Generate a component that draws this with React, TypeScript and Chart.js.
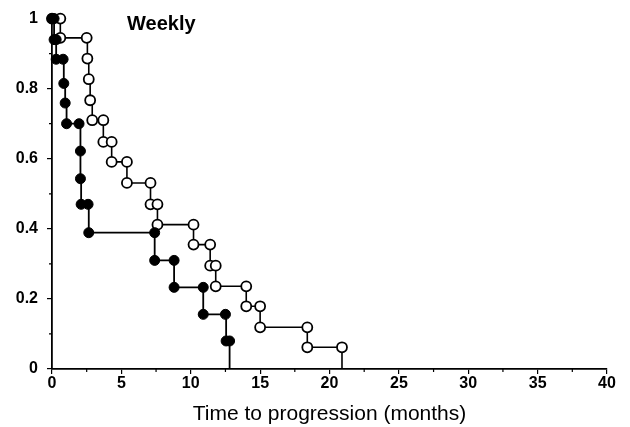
import React, { useEffect, useRef } from "react";
import { Chart, registerables } from "chart.js";

Chart.register(...registerables);

// Kaplan-Meier corner points (time in months, proportion progression-free)
const filledTimes = [0, 0.15, 0.15, 0.3, 0.3, 0.8, 0.85, 0.95, 1.05, 1.95, 2.05, 2.05, 2.1, 2.6, 2.65, 7.4, 7.4, 8.8, 8.8, 10.9, 10.9, 12.5, 12.55, 12.8, 12.8];
const filledValues = [1, 1, 0.94, 0.94, 0.884, 0.884, 0.815, 0.759, 0.7, 0.7, 0.622, 0.543, 0.47, 0.47, 0.389, 0.389, 0.31, 0.31, 0.233, 0.233, 0.156, 0.156, 0.08, 0.08, 0];

const openTimes = [0, 0.6, 0.6, 2.5, 2.55, 2.65, 2.75, 2.9, 3.7, 3.7, 4.3, 4.3, 5.4, 5.4, 7.1, 7.1, 7.6, 7.6, 10.2, 10.2, 11.4, 11.4, 11.8, 11.8, 14.0, 14.0, 15.0, 15.0, 18.4, 18.4, 20.9, 20.9];
const openValues = [1, 1, 0.945, 0.945, 0.886, 0.827, 0.767, 0.71, 0.71, 0.648, 0.648, 0.591, 0.591, 0.531, 0.531, 0.47, 0.47, 0.412, 0.412, 0.355, 0.355, 0.295, 0.295, 0.236, 0.236, 0.179, 0.179, 0.119, 0.119, 0.062, 0.062, 0];

const xTicks = [0, 5, 10, 15, 20, 25, 30, 35, 40];
const xMinorTicks = [2.5, 7.5, 12.5, 17.5, 22.5, 27.5, 32.5, 37.5];
const yTicks = [0, 0.2, 0.4, 0.6, 0.8, 1];
const yMinorTicks = [0.1, 0.3, 0.5, 0.7, 0.9];
const panelLabel = "Weekly";
const xTitle = "Time to progression (months)";

const FONT = "'Liberation Sans', Arial, Helvetica, sans-serif";

const toPoints = (xs: number[], ys: number[]) => xs.map((x, i) => ({ x, y: ys[i] }));

export default function App() {
  const ref = useRef<HTMLCanvasElement | null>(null);

  useEffect(() => {
    document.body.style.margin = "0";
    const canvas = ref.current;
    if (!canvas) return;

    const extras = {
      id: "extras",
      afterDraw(chart: any) {
        const ctx = chart.ctx;
        const xs = chart.scales.x;
        const ys = chart.scales.y;
        const area = chart.chartArea;
        ctx.save();
        ctx.strokeStyle = "#000";
        ctx.lineWidth = 1.2;
        ctx.beginPath();
        xMinorTicks.forEach((v) => {
          const px = xs.getPixelForValue(v);
          ctx.moveTo(px, area.bottom);
          ctx.lineTo(px, area.bottom + 3);
        });
        yMinorTicks.forEach((v) => {
          const py = ys.getPixelForValue(v);
          ctx.moveTo(area.left, py);
          ctx.lineTo(area.left - 3, py);
        });
        ctx.stroke();
        ctx.fillStyle = "#000";
        ctx.font = `bold 20px ${FONT}`;
        ctx.textBaseline = "alphabetic";
        ctx.textAlign = "left";
        ctx.fillText(panelLabel, 127, 30);
        ctx.restore();
      },
    };

    const lastZero = (n: number) => (c: any) => (c.dataIndex === n - 1 ? 0 : 5);

    const chart = new Chart(canvas, {
      type: "scatter",
      data: {
        datasets: [
          {
            label: "filled",
            data: toPoints(filledTimes, filledValues),
            showLine: true,
            stepped: true,
            borderColor: "#000",
            borderWidth: 1.8,
            backgroundColor: "#000",
            pointBackgroundColor: "#000",
            pointBorderColor: "#000",
            pointBorderWidth: 1,
            pointRadius: lastZero(filledTimes.length),
            clip: false,
          } as any,
          {
            label: "open",
            data: toPoints(openTimes, openValues),
            showLine: true,
            stepped: true,
            borderColor: "#000",
            borderWidth: 1.6,
            backgroundColor: "#fff",
            pointBackgroundColor: "#fff",
            pointBorderColor: "#000",
            pointBorderWidth: 1.8,
            pointRadius: lastZero(openTimes.length),
            clip: false,
          } as any,
        ],
      },
      options: {
        responsive: false,
        animation: false,
        events: [],
        layout: { padding: { top: 17, right: 23, left: 0, bottom: 0 } },
        plugins: {
          legend: { display: false },
          tooltip: { enabled: false },
          title: { display: false },
        },
        scales: {
          x: {
            type: "linear",
            min: 0,
            max: 40,
            afterBuildTicks: (s: any) => {
              s.ticks = xTicks.map((v) => ({ value: v }));
            },
            afterFit: (s: any) => {
              s.height = 58;
            },
            ticks: {
              color: "#000",
              font: { family: FONT, size: 16, weight: "bold" },
              padding: 0,
              maxRotation: 0,
              autoSkip: false,
              callback: (v: any) => String(v),
            },
            grid: {
              drawOnChartArea: false,
              drawTicks: true,
              tickLength: 5,
              color: "#000",
              lineWidth: 1.2,
            },
            border: { display: true, color: "#000", width: 1.8 },
            title: {
              display: true,
              text: xTitle,
              color: "#000",
              font: { family: FONT, size: 21, weight: "normal" },
              padding: { top: 4, bottom: 0 },
            },
          },
          y: {
            type: "linear",
            min: 0,
            max: 1,
            afterBuildTicks: (s: any) => {
              s.ticks = yTicks.map((v) => ({ value: v }));
            },
            afterFit: (s: any) => {
              s.width = 52;
            },
            ticks: {
              color: "#000",
              font: { family: FONT, size: 16, weight: "bold" },
              padding: 9,
              autoSkip: false,
              callback: (v: any) => (v === 0 ? "0" : v === 1 ? "1" : Number(v).toFixed(1)),
            },
            grid: {
              drawOnChartArea: false,
              drawTicks: true,
              tickLength: 5,
              color: "#000",
              lineWidth: 1.2,
            },
            border: { display: true, color: "#000", width: 1.8 },
          },
        },
      },
      plugins: [extras],
    } as any);

    return () => chart.destroy();
  }, []);

  return (
    <div style={{ width: 630, height: 427 }}>
      <canvas ref={ref} width={630} height={427} style={{ display: "block" }} />
    </div>
  );
}
